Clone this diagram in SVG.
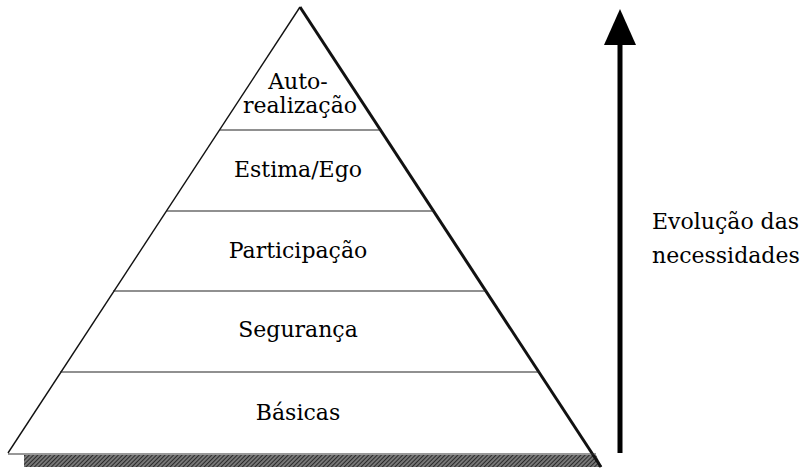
<svg xmlns="http://www.w3.org/2000/svg" width="802" height="469" viewBox="0 0 802 469">
<style>
.lbl{font-family:"DejaVu Serif","Liberation Serif",serif;font-size:22px;fill:#000;}
.lvl{stroke:#222;stroke-width:1.2;fill:none;}
</style>
<defs>
<pattern id="hatch" width="3" height="3" patternUnits="userSpaceOnUse" patternTransform="rotate(45)">
<rect width="3" height="3" fill="#777"/>
<line x1="0" y1="0" x2="0" y2="3" stroke="#111" stroke-width="1.5"/>
</pattern>
</defs>
<rect width="802" height="469" fill="#fff"/>
<g id="shadow">
<polygon points="24,455 596,455 602,467 24,467" fill="url(#hatch)"/>
</g>
<g id="pyramid">
<line x1="8" y1="453" x2="300" y2="7" stroke="#111" stroke-width="1.4"/>
<line x1="300" y1="7" x2="601" y2="467" stroke="#111" stroke-width="3"/>
<line x1="8" y1="454" x2="596" y2="454" stroke="#333" stroke-width="1.2"/>
</g>
<g id="levels">
<line class="lvl" x1="219" y1="130" x2="381" y2="130"/>
<line class="lvl" x1="166" y1="211" x2="434" y2="211"/>
<line class="lvl" x1="113" y1="291" x2="487" y2="291"/>
<line class="lvl" x1="60" y1="372" x2="540" y2="372"/>
</g>
<g id="node-autorealizacao">
<text class="lbl" x="298" y="89" text-anchor="middle">Auto-</text>
<text class="lbl" x="300" y="113" text-anchor="middle">realização</text>
</g>
<g id="node-estima"><text class="lbl" x="298" y="177" text-anchor="middle">Estima/Ego</text></g>
<g id="node-participacao"><text class="lbl" x="298" y="258" text-anchor="middle">Participação</text></g>
<g id="node-seguranca"><text class="lbl" x="298" y="337" text-anchor="middle">Segurança</text></g>
<g id="node-basicas"><text class="lbl" x="298" y="420" text-anchor="middle">Básicas</text></g>
<g id="connectors">
<line x1="620" y1="453" x2="620" y2="40" stroke="#000" stroke-width="5"/>
<polygon points="620,9 604,45 636,45" fill="#000"/>
</g>
<g id="node-evolucao">
<text class="lbl" x="652" y="229">Evolução das</text>
<text class="lbl" x="652" y="263">necessidades</text>
</g>
</svg>
